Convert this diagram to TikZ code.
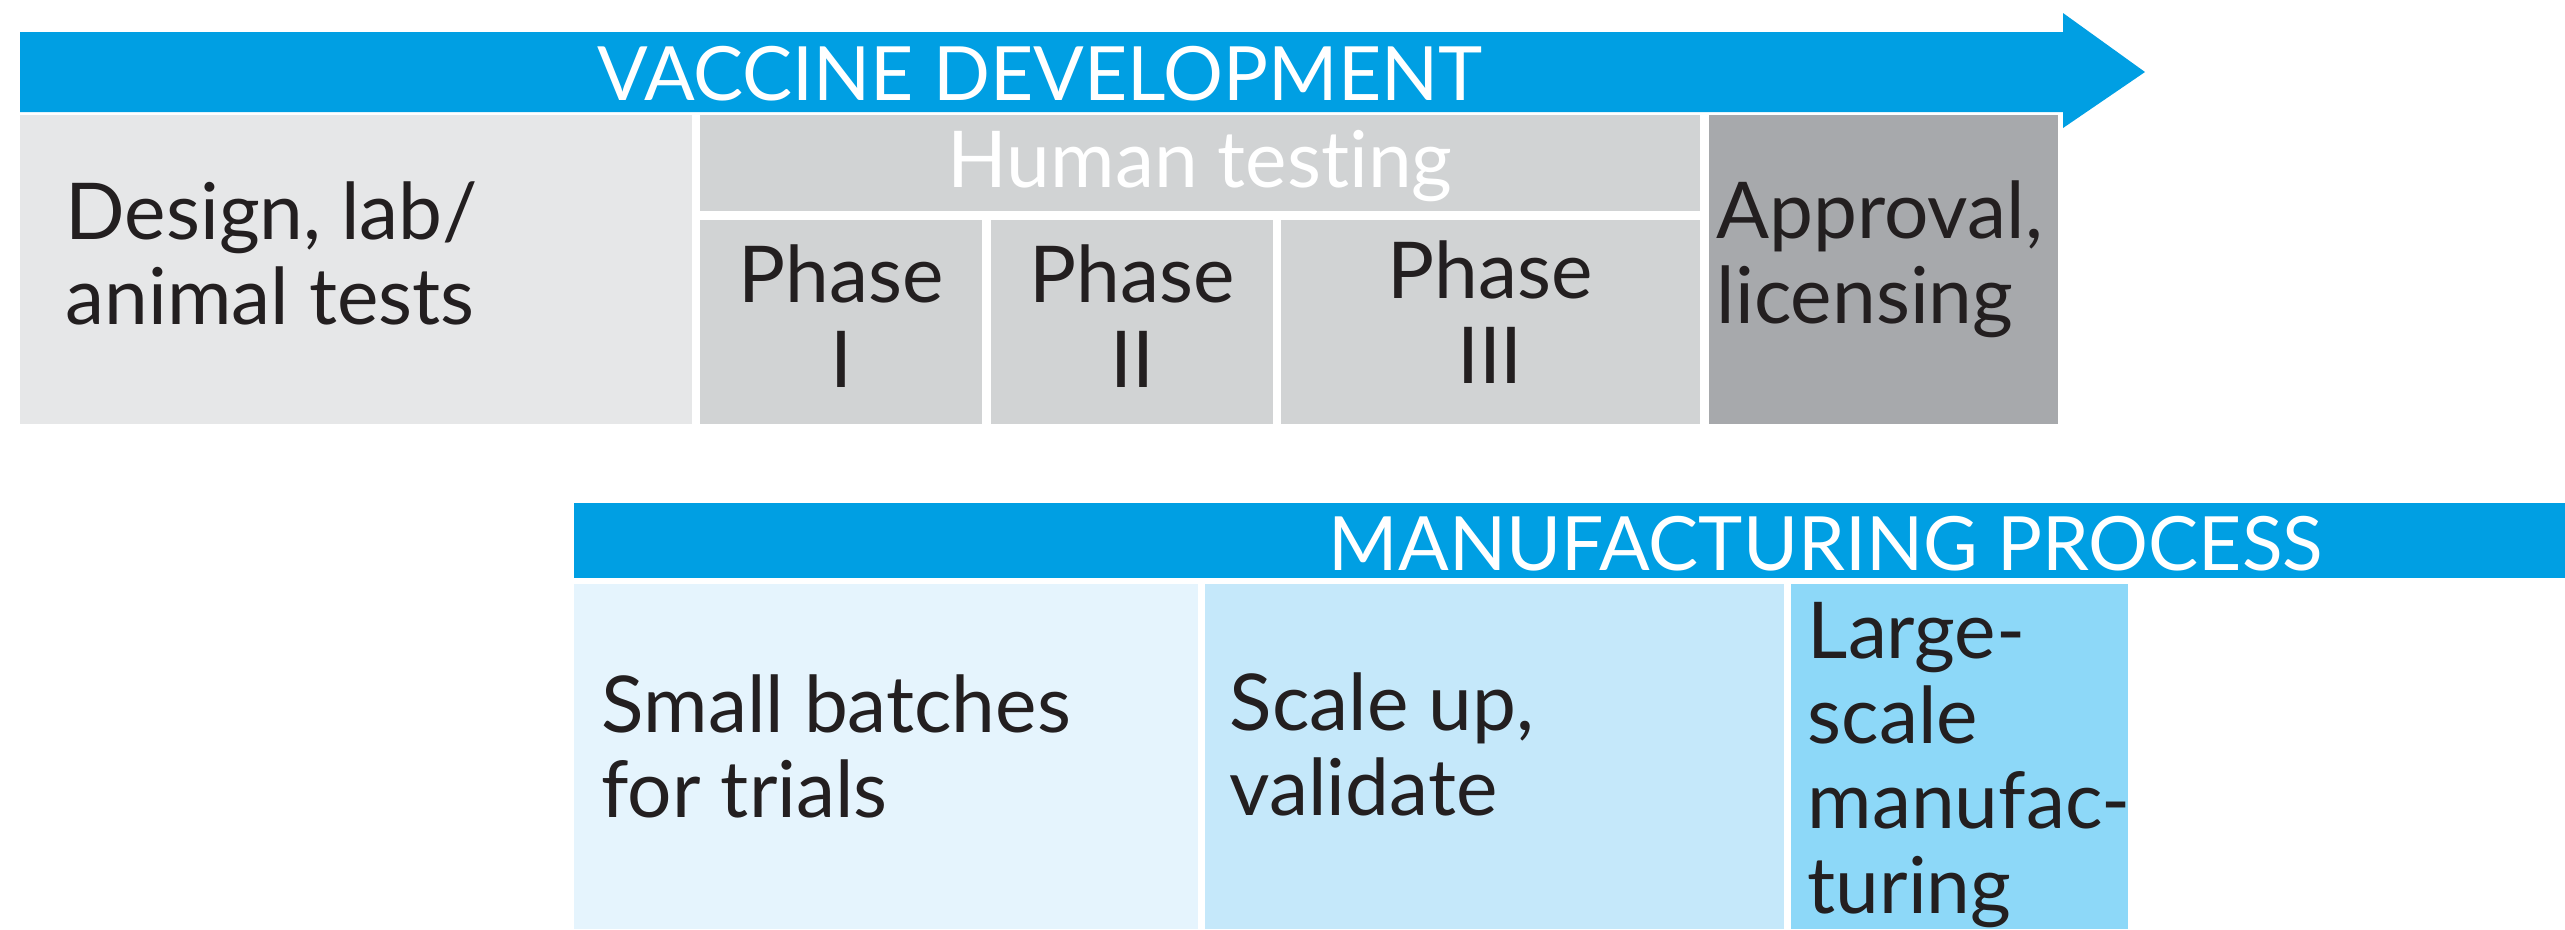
\documentclass[tikz,border=0pt]{standalone}
\usepackage{fontspec}
\setmainfont{Lato}[Ligatures={TeX,NoCommon}]
\usetikzlibrary{fit}
\definecolor{vblue}{HTML}{009FE3}
\definecolor{ink}{HTML}{231F20}
\definecolor{greyA}{HTML}{E6E7E8}
\definecolor{greyB}{HTML}{D1D3D4}
\definecolor{greyC}{HTML}{A7A9AC}
\definecolor{blueA}{HTML}{E5F4FD}
\definecolor{blueB}{HTML}{C5E8FA}
\definecolor{blueC}{HTML}{8DD8F8}
\newcommand\leftlines[1]{\begin{tabular}[t]{@{}l@{}}#1\end{tabular}}
\newcommand\midlines[1]{\begin{tabular}[t]{@{}c@{}}#1\end{tabular}}
\begin{document}
\begin{tikzpicture}[x=0.01cm,y=-0.01cm,
  cell/.style={inner sep=0pt, outer sep=0pt, draw=none},
  txt/.style={inner sep=0pt, anchor=base west, text=ink,
    font=\fontsize{22.3}{24.2}\selectfont},
  ctxt/.style={txt, anchor=base},
  head/.style={inner sep=0pt, anchor=base west, text=white,
    font=\fontsize{21.3}{24}\selectfont},
]
\useasboundingbox (0,0) rectangle (2565,929);

% development arrow
\fill[vblue] (20,32) -- (2063,32) -- (2063,13) -- (2145,72) -- (2063,128)
  -- (2063,112) -- (20,112) -- cycle;
\coordinate (devbar) at (20,112);
\node[head] (devtitle) at (597,100) {VACCINE DEVELOPMENT};

% development stages
\node[cell, fill=greyA, fit={(20,115)(692,424)}] (design) {};
\node[cell, fill=greyB, fit={(700,115)(1700,211)}] (human) {};
\node[cell, fill=greyB, fit={(700,220)(982,424)}] (ph1) {};
\node[cell, fill=greyB, fit={(991,220)(1273,424)}] (ph2) {};
\node[cell, fill=greyB, fit={(1281,220)(1700,424)}] (ph3) {};
\node[cell, fill=greyC, fit={(1709,115)(2058,424)}] (approval) {};

\node[txt] (designtxt) at (65,239) {\leftlines{Design, lab/\\animal tests}};
\node[ctxt, text=white] (humantxt) at (1200,187) {Human testing};
\node[ctxt] (ph1txt) at (841,302) {\midlines{Phase\\I}};
\node[ctxt] (ph2txt) at (1132,302) {\midlines{Phase\\II}};
\node[ctxt] (ph3txt) at (1490,298) {\midlines{Phase\\III}};
\node[txt] (approvaltxt) at (1716,238) {\leftlines{Approval,\\licensing}};

% manufacturing bar
\node[cell, fill=vblue, fit={(574,503)(2565,578)}] (mfgbar) {};
\node[head] (mfgtitle) at (1328,570) {MANUFACTURING PROCESS};

% manufacturing stages
\node[cell, fill=blueA, fit={(574,584)(1198,929)}] (small) {};
\node[cell, fill=blueB, fit={(1205,584)(1784,929)}] (scaleup) {};
\node[cell, fill=blueC, fit={(1791,584)(2128,929)}] (large) {};

\node[txt] (smalltxt) at (601,732) {\leftlines{Small batches\\for trials}};
\node[txt] (scaleuptxt) at (1229,730) {\leftlines{Scale up,\\validate}};
\node[txt] (largetxt) at (1807,658) {\leftlines{Large-\\scale\\manufac-\\turing}};
\end{tikzpicture}
\end{document}
